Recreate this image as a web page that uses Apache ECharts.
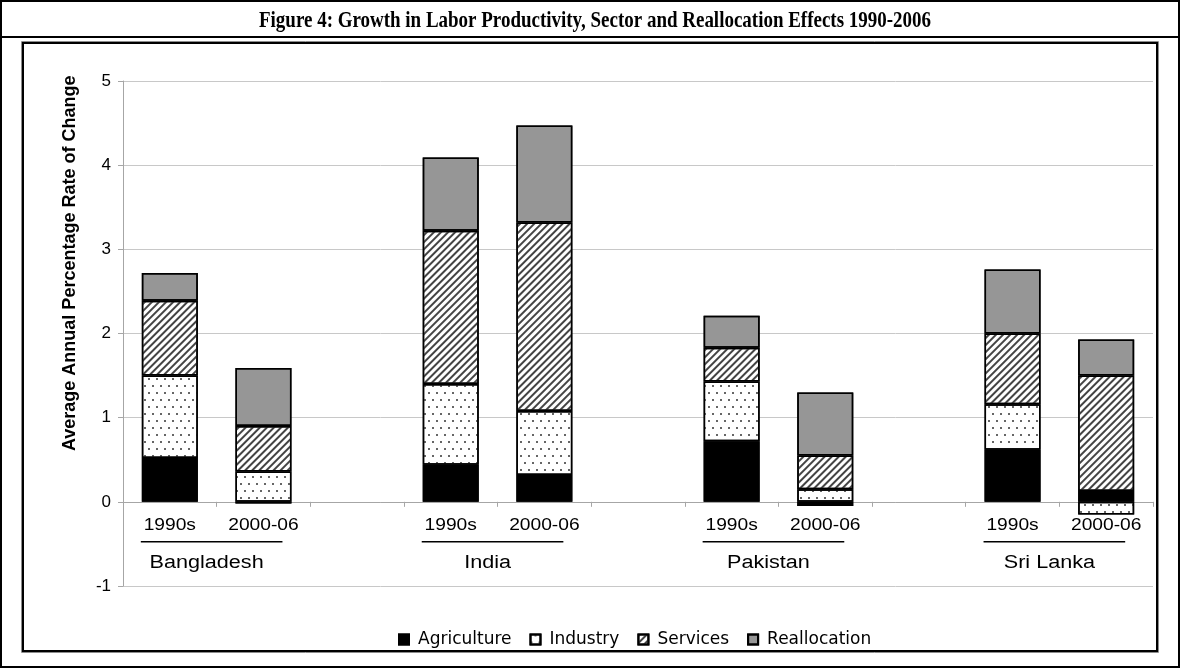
<!DOCTYPE html>
<html>
<head>
<meta charset="utf-8">
<script src="https://cdn.jsdelivr.net/npm/echarts@6/dist/echarts.min.js"></script>
<style>
  html, body { margin: 0; padding: 0; background: #fff; }
  #chart { width: 1180px; height: 668px; }
</style>
</head>
<body>
<div id="chart"></div>
<script>
// ---- text ----
const titleText = 'Figure 4: Growth in Labor Productivity, Sector and Reallocation Effects 1990-2006';
const yAxisTitle = 'Average Annual Percentage Rate of Change';
const countries = ['Bangladesh', 'India', 'Pakistan', 'Sri Lanka'];
const periods = ['1990s', '2000-06'];
const seriesNames = ['Agriculture', 'Industry', 'Services', 'Reallocation'];

// ---- values (percentage points), ordered country by country, 1990s then 2000-06 ----
const agriculture  = [0.52, -0.02, 0.44, 0.32, 0.72, -0.05, 0.62, 0.13];
const industry     = [0.98,  0.36, 0.96, 0.76, 0.71,  0.15, 0.54, -0.15];
const services     = [0.89,  0.54, 1.82, 2.24, 0.40,  0.40, 0.84, 1.37];
const reallocation = [0.33,  0.69, 0.87, 1.15, 0.38,  0.75, 0.76, 0.43];

// ---- value axis ticks ----
const yMin = -1, yMax = 5, yStep = 1;

// Build the category list with an empty slot between countries
const categories = [];
const slotOf = [];          // category index of each country/period value
countries.forEach((c, i) => {
  periods.forEach(p => { slotOf.push(categories.length); categories.push(p); });
  if (i < countries.length - 1) categories.push('');
});
function toSlots(vals) {
  const out = categories.map(() => null);
  vals.forEach((v, k) => { out[slotOf[k]] = v; });
  return out;
}

const FONT = '"Liberation Sans", Arial, sans-serif';
const WIDE_FONT = '"DejaVu Sans", "Liberation Sans", sans-serif';
const border = { borderColor: '#000', borderWidth: 1.5 };

// plain fills get an invisible pattern so only the patterned series show texture
const noPattern = { color: 'rgba(0,0,0,0)', dashArrayX: [1, 0], dashArrayY: [1, 0] };
const decals = {
  Agriculture: noPattern,
  Industry: {
    symbol: 'circle', symbolSize: 1, color: '#333',
    dashArrayX: [[2, 6], [0, 4, 2, 2]], dashArrayY: [2, 5]
  },
  Services: {
    symbol: 'rect', symbolSize: 1, color: '#444',
    dashArrayX: [1, 0], dashArrayY: [1.5, 2.8], rotation: -Math.PI / 4
  },
  Reallocation: noPattern
};
const fills = { Agriculture: '#000', Industry: '#fff', Services: '#fff', Reallocation: '#969696' };
const valueSets = [agriculture, industry, services, reallocation];

const chart = echarts.init(document.getElementById('chart'), null, { renderer: 'canvas' });

const option = {
  animation: false,
  backgroundColor: '#fff',
  aria: { enabled: true, decal: { show: true } },
  grid: { left: 123, right: 27, top: 81, bottom: 82, containLabel: false },
  legend: {
    data: seriesNames,
    left: 393, top: 626,
    icon: 'rect', itemWidth: 10, itemHeight: 10, itemGap: 18,
    textStyle: { fontFamily: WIDE_FONT, fontSize: 17, color: '#000', padding: [0, 0, 0, 4] }
  },
  xAxis: {
    type: 'category',
    data: categories,
    axisLine: { onZero: true, lineStyle: { color: '#a6a6a6', width: 1 } },
    axisTick: { show: true, interval: 0, length: 5, lineStyle: { color: '#a6a6a6' } },
    axisLabel: { show: false },
    splitLine: { show: false }
  },
  yAxis: {
    type: 'value',
    min: yMin, max: yMax, interval: yStep,
    axisLine: { show: true, lineStyle: { color: '#a6a6a6', width: 1 } },
    axisTick: { show: true, length: 5, lineStyle: { color: '#a6a6a6' } },
    axisLabel: { margin: 12, fontFamily: FONT, fontSize: 17, color: '#000' },
    splitLine: { show: true, lineStyle: { color: '#c8c8c8', width: 1 } }
  },
  series: seriesNames.map((name, i) => ({
    name,
    type: 'bar',
    stack: 'total',
    barWidth: 56,
    data: toSlots(valueSets[i]),
    itemStyle: Object.assign({ color: fills[name], decal: decals[name] }, border),
    emphasis: { disabled: true }
  }))
};
chart.setOption(option);

// ---- frame, title, axis title, period and country labels ----
const W = 1180, H = 668;
const ctx = document.createElement('canvas').getContext('2d');
const titleFont = 'bold 24px "Liberation Serif", "Times New Roman", serif';
ctx.font = titleFont;
const titleScale = 672 / ctx.measureText(titleText).width;
const textStretch = 1.2;   // labels are set slightly wide

const graphics = [
  // outer border and title row
  { type: 'rect', shape: { x: 1, y: 1, width: W - 2, height: H - 2 }, style: { fill: null, stroke: '#000', lineWidth: 2 }, z: 10 },
  { type: 'line', shape: { x1: 0, y1: 37, x2: W, y2: 37 }, style: { stroke: '#000', lineWidth: 2 }, z: 10 },
  {
    type: 'text', x: 595, y: 21, scaleX: titleScale, z: 10,
    style: { text: titleText, font: titleFont, fill: '#000', textAlign: 'center', textVerticalAlign: 'middle' }
  },
  // chart area border
  { type: 'rect', shape: { x: 21.5, y: 41.5, width: 1137, height: 611 }, style: { fill: null, stroke: '#8c8c8c', lineWidth: 1 }, z: 10 },
  { type: 'rect', shape: { x: 23, y: 43, width: 1134, height: 608 }, style: { fill: null, stroke: '#000', lineWidth: 2 }, z: 10 },
  // y axis title
  {
    type: 'text', x: 70, y: 451, rotation: Math.PI / 2, z: 10,
    style: { text: yAxisTitle, font: 'bold 18px ' + FONT, fill: '#000', textAlign: 'left', textVerticalAlign: 'middle' }
  }
];

const baseY = chart.convertToPixel({ yAxisIndex: 0 }, 0);
countries.forEach((c, i) => {
  const xs = [0, 1].map(k => chart.convertToPixel({ xAxisIndex: 0 }, slotOf[i * 2 + k]));
  xs.forEach((x, k) => {
    graphics.push({
      type: 'text', x: x, y: baseY + 24, scaleX: textStretch, z: 10,
      style: { text: periods[k], font: '16px ' + FONT, fill: '#000', textAlign: 'center', textVerticalAlign: 'middle' }
    });
  });
  graphics.push({
    type: 'line', z: 10,
    shape: { x1: xs[0] - 29, y1: baseY + 40, x2: xs[1] + 19, y2: baseY + 40 },
    style: { stroke: '#000', lineWidth: 1.5 }
  });
  graphics.push({
    type: 'text', x: (xs[0] + xs[1]) / 2 - 10, y: baseY + 61, scaleX: textStretch, z: 10,
    style: { text: c, font: '18px ' + FONT, fill: '#000', textAlign: 'center', textVerticalAlign: 'middle' }
  });
});

chart.setOption({ graphic: graphics });
</script>
</body>
</html>
